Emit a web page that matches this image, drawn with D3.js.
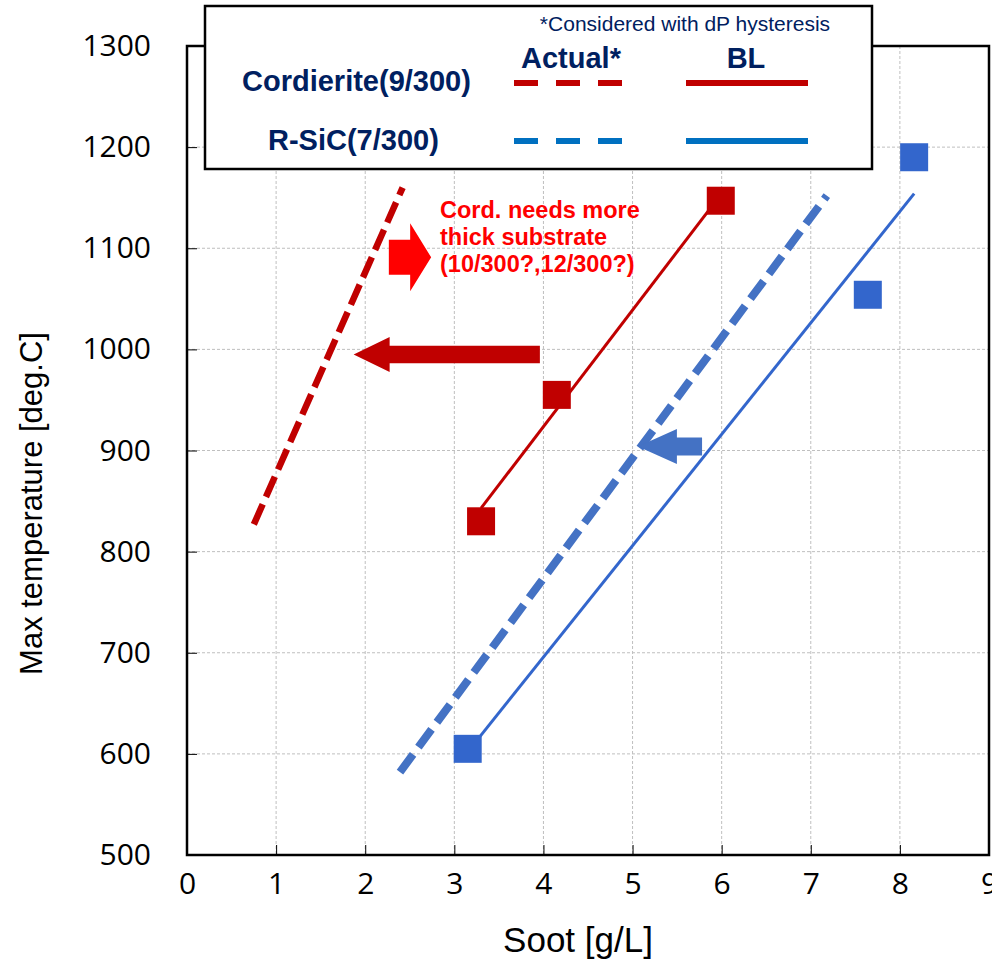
<!DOCTYPE html>
<html>
<head>
<meta charset="utf-8">
<script src="https://cdn.jsdelivr.net/npm/d3@7"></script>
<style>
  body { margin: 0; background: #fff; }
  svg { display: block; }
  .tick text { font-family: "Open Sans", "Noto Sans", sans-serif; }
</style>
</head>
<body>
<script>
// ---- data ----
var xTicks = [0, 1, 2, 3, 4, 5, 6, 7, 8, 9];
var yTicks = [500, 600, 700, 800, 900, 1000, 1100, 1200, 1300];

// Cordierite(9/300) BL points + fitted line
var cordSoot = [3.3, 4.15, 5.99];
var cordTemp = [830, 955, 1147];
var cordFit = [[3.3, 843], [5.99, 1153]];
// Cordierite actual (dP hysteresis) line
var cordActual = [[0.75, 827], [2.42, 1160]];

// R-SiC(7/300) BL points + fitted line
var sicSoot = [3.15, 7.64, 8.16];
var sicTemp = [605, 1054, 1190];
var sicFit = [[3.15, 602], [8.16, 1154]];
// R-SiC actual line
var sicActual = [[2.39, 582], [7.18, 1152]];

// block arrows: tail x, tip x, y (data units)
var arrows = [
  { name: "cordShift", tail: 3.96, tip: 1.87, y: 995 },
  { name: "needMore", tail: 2.265, tip: 2.74, y: 1091 },
  { name: "sicShift", tail: 5.78, tip: 5.06, y: 904 }
];

var noteLines = ["Cord. needs more", "thick substrate", "(10/300?,12/300?)"];

// ---- drawing ----
var W = 992, H = 963;
var svg = d3.select("body").append("svg")
  .attr("width", W)
  .attr("height", H);

var pl = 187, pr = 989, pt = 46, pb = 855;

var x = d3.scaleLinear().domain([0, 9]).range([pl, pr]);
var y = d3.scaleLinear().domain([500, 1300]).range([pb, pt]);

var red = "#C00000", blue = "#3366CC", blueDash = "#4472C4", navy = "#002060";

// grid
var grid = svg.append("g");
grid.selectAll("line.gx")
  .data(xTicks.slice(1, -1))
  .enter().append("line")
  .attr("x1", x).attr("x2", x)
  .attr("y1", pt).attr("y2", pb)
  .attr("stroke", "#BFBFBF").attr("stroke-dasharray", "3,2").attr("stroke-width", 1);
grid.selectAll("line.gy")
  .data(yTicks.slice(1, -1))
  .enter().append("line")
  .attr("y1", y).attr("y2", y)
  .attr("x1", pl).attr("x2", pr)
  .attr("stroke", "#BFBFBF").attr("stroke-dasharray", "3,2").attr("stroke-width", 1);

// axes (inward ticks)
var xAxis = svg.append("g")
  .attr("transform", "translate(0," + pb + ")")
  .call(d3.axisBottom(x).tickValues(xTicks).tickSize(-10).tickPadding(18).tickFormat(d3.format("d")));
xAxis.selectAll("text").attr("font-size", 30).attr("fill", "#000");

var yAxis = svg.append("g")
  .attr("transform", "translate(" + pl + ",0)")
  .call(d3.axisLeft(y).tickValues(yTicks).tickSize(-10).tickPadding(36).tickFormat(d3.format("d")));
yAxis.selectAll("text").attr("font-size", 30).attr("fill", "#000");
svg.selectAll(".domain").remove();
svg.selectAll(".tick line").attr("stroke", "#000").attr("stroke-width", 1);

// plot frame
svg.append("rect")
  .attr("x", pl).attr("y", pt)
  .attr("width", pr - pl).attr("height", pb - pt)
  .attr("fill", "none").attr("stroke", "#000").attr("stroke-width", 2.5);

// axis titles
svg.append("text")
  .attr("x", 578).attr("y", 952)
  .attr("text-anchor", "middle")
  .attr("font-family", "Liberation Sans, Arial, sans-serif")
  .attr("font-size", 35)
  .text("Soot [g/L]");

svg.append("text")
  .attr("transform", "translate(42," + ((pt + pb) / 2 + 53) + ") rotate(-90)")
  .attr("text-anchor", "middle")
  .attr("font-family", "Liberation Sans, Arial, sans-serif")
  .attr("font-size", 31)
  .text("Max temperature [deg.C]");

var line = d3.line()
  .x(function (d) { return x(d[0]); })
  .y(function (d) { return y(d[1]); });

// actual (dashed) lines
svg.append("path").datum(cordActual)
  .attr("d", line).attr("fill", "none")
  .attr("stroke", red).attr("stroke-width", 6.5).attr("stroke-dasharray", "22,8");
svg.append("path").datum(sicActual)
  .attr("d", line).attr("fill", "none")
  .attr("stroke", blueDash).attr("stroke-width", 8).attr("stroke-dasharray", "22,9");

// BL fit lines
svg.append("path").datum(cordFit)
  .attr("d", line).attr("fill", "none")
  .attr("stroke", red).attr("stroke-width", 3);
svg.append("path").datum(sicFit)
  .attr("d", line).attr("fill", "none")
  .attr("stroke", blue).attr("stroke-width", 3);

// square markers
var sq = 28;
svg.append("g").selectAll("rect")
  .data(d3.zip(cordSoot, cordTemp))
  .enter().append("rect")
  .attr("x", function (d) { return x(d[0]) - sq / 2; })
  .attr("y", function (d) { return y(d[1]) - sq / 2; })
  .attr("width", sq).attr("height", sq)
  .attr("fill", red);
svg.append("g").selectAll("rect")
  .data(d3.zip(sicSoot, sicTemp))
  .enter().append("rect")
  .attr("x", function (d) { return x(d[0]) - sq / 2; })
  .attr("y", function (d) { return y(d[1]) - sq / 2; })
  .attr("width", sq).attr("height", sq)
  .attr("fill", blue);

// block arrows
var arrowStyle = {
  cordShift: { fill: red, body: 8.7, head: 17.5, headLen: 36 },
  needMore: { fill: "#FF0000", body: 17.5, head: 34, headLen: 21 },
  sicShift: { fill: blueDash, body: 9, head: 17.5, headLen: 39 }
};
svg.append("g").selectAll("path")
  .data(arrows)
  .enter().append("path")
  .attr("fill", function (d) { return arrowStyle[d.name].fill; })
  .attr("d", function (d) {
    var s = arrowStyle[d.name];
    var x0 = x(d.tail), x1 = x(d.tip), cy = y(d.y);
    var dir = x1 > x0 ? 1 : -1;
    var xb = x1 - dir * s.headLen;
    return "M" + x0 + "," + (cy - s.body) +
      "L" + xb + "," + (cy - s.body) +
      "L" + xb + "," + (cy - s.head) +
      "L" + x1 + "," + cy +
      "L" + xb + "," + (cy + s.head) +
      "L" + xb + "," + (cy + s.body) +
      "L" + x0 + "," + (cy + s.body) + "Z";
  });

// note text
svg.append("g").selectAll("text")
  .data(noteLines)
  .enter().append("text")
  .attr("x", 440)
  .attr("y", function (d, i) { return 218 + i * 27; })
  .attr("font-family", "Liberation Sans, Arial, sans-serif")
  .attr("font-weight", "bold")
  .attr("font-size", 23.5)
  .attr("fill", "#FF0000")
  .text(function (d) { return d; });

// legend box
var lg = svg.append("g");
lg.append("rect")
  .attr("x", 205).attr("y", 6)
  .attr("width", 667).attr("height", 163)
  .attr("fill", "#fff").attr("stroke", "#000").attr("stroke-width", 2.5);

var lgFont = "Liberation Sans, Arial, sans-serif";
lg.append("text")
  .attr("x", 685).attr("y", 31)
  .attr("text-anchor", "middle")
  .attr("font-family", lgFont).attr("font-size", 21)
  .attr("fill", navy)
  .text("*Considered with dP hysteresis");
lg.append("text")
  .attr("x", 571).attr("y", 68)
  .attr("text-anchor", "middle")
  .attr("font-family", lgFont).attr("font-size", 29).attr("font-weight", "bold")
  .attr("fill", navy)
  .text("Actual*");
lg.append("text")
  .attr("x", 746).attr("y", 68)
  .attr("text-anchor", "middle")
  .attr("font-family", lgFont).attr("font-size", 29).attr("font-weight", "bold")
  .attr("fill", navy)
  .text("BL");
lg.append("text")
  .attr("x", 242).attr("y", 91)
  .attr("font-family", lgFont).attr("font-size", 29).attr("font-weight", "bold")
  .attr("fill", navy)
  .text("Cordierite(9/300)");
lg.append("text")
  .attr("x", 268).attr("y", 150)
  .attr("font-family", lgFont).attr("font-size", 29).attr("font-weight", "bold")
  .attr("fill", navy)
  .text("R-SiC(7/300)");

var legendRows = [{ c: red, y: 83 }, { c: "#0070C0", y: 141 }];
legendRows.forEach(function (r) {
  lg.append("line")
    .attr("x1", 514).attr("x2", 623).attr("y1", r.y).attr("y2", r.y)
    .attr("stroke", r.c).attr("stroke-width", 6).attr("stroke-dasharray", "24,18");
  lg.append("line")
    .attr("x1", 686).attr("x2", 808).attr("y1", r.y).attr("y2", r.y)
    .attr("stroke", r.c).attr("stroke-width", 6);
});
</script>
</body>
</html>
